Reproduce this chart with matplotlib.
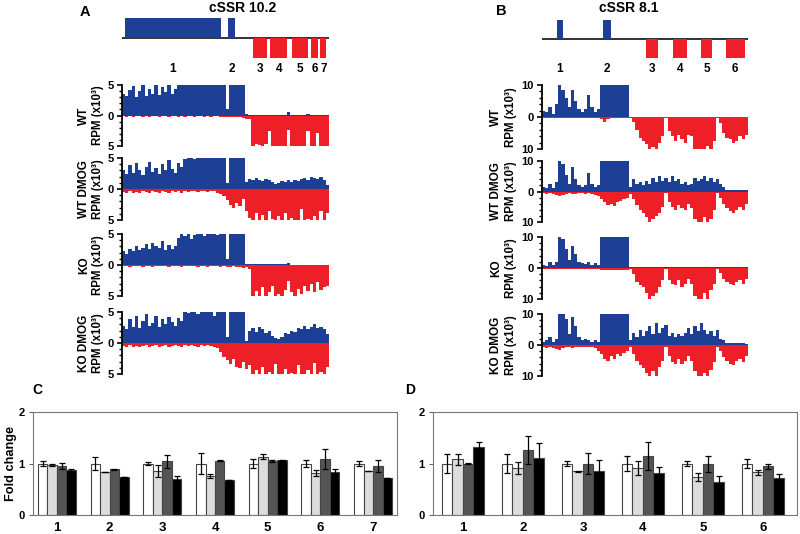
import numpy as np
import matplotlib
matplotlib.use('Agg')
import matplotlib.pyplot as plt
from matplotlib.ticker import MultipleLocator

plt.rcParams['font.family'] = ['Liberation Sans', 'DejaVu Sans']
plt.rcParams['font.weight'] = 'bold'

BLUE = '#1d3f96'
RED = '#ee1f26'

# ---------------- gene models (positions in track bins, 0..64) ----------------
geneA_title = 'cSSR 10.2'
geneA_exons = [(0.9, 30.6), (32.8, 35.0), (40.6, 44.9), (45.8, 51.1), (52.6, 57.6), (58.5, 60.7), (61.3, 63.2)]
geneA_strand = [1, 1, -1, -1, -1, -1, -1]
geneA_labels = ['1', '2', '3', '4', '5', '6', '7']

geneB_title = 'cSSR 8.1'
geneB_exons = [(4.7, 6.5), (18.9, 21.4), (32.3, 36.0), (40.7, 45.0), (49.4, 52.8), (57.1, 63.0)]
geneB_strand = [1, 1, -1, -1, -1, -1]
geneB_labels = ['1', '2', '3', '4', '5', '6']

track_names = ['WT', 'WT DMOG', 'KO', 'KO DMOG']

# ---------------- coverage profiles, cSSR 10.2 (RPM x10^3, capped at 5) ----------------
WT_A_blue = [3.6, 3.2, 4.2, 4.8, 3.0, 4.0, 5.0, 3.2,
             4.4, 3.6, 5.0, 3.4, 4.6, 3.8, 5.0, 3.6,
             4.4, 5, 5, 5, 5, 5, 5, 5,
             5, 5, 5, 5, 5, 5, 5, 5,
             1.0, 5, 5, 5, 5, 5, 0.3, 0.05,
             0.05, 0.05, 0.05, 0.05, 0.05, 0.05, 0.05, 0.05,
             0.05, 0.05, 0.05, 0.6, 0.05, 0.05, 0.05, 0.05,
             0.05, 0.25, 0.05, 0.05, 0.05, 0.05, 0.05, 0.05]
WT_A_red = [.15, .2, .1, .2, .15, .1, .2, .15,
            .2, .1, .15, .2, .1, .15, .2, .15,
            .1, .2, .15, .2, .1, .15, .2, .15,
            .1, .2, .15, .2, .15, .1, .2, .25,
            .2, .3, .25, .3, .3, .4, .5, .5,
            5, 4.6, 4.8, 5, 4.7, 2.5, 5, 5,
            5, 5, 5, 2.4, 5, 5, 5, 5,
            5, 2.6, 5, 5, 2.8, 5, 5, 5]
WTD_A_blue = [3.0, 2.4, 3.8, 2.6, 4.2, 3.0, 2.2, 3.6,
              4.4, 2.8, 3.4, 2.4, 4.0, 3.0, 4.6, 3.2,
              2.6, 4.2, 3.6, 4.8, 5, 5, 4.8, 5,
              5, 5, 5, 5, 5, 5, 5, 5,
              1.0, 5, 5, 5, 5, 5, 1.2, 1.6,
              1.4, 1.8, 1.5, 1.3, 1.6, 1.4, 1.2, 0.8,
              1.0, 1.3, 1.1, 1.4, 1.2, 1.5, 1.3, 1.6,
              1.8, 1.5, 2.0, 1.7, 1.6, 1.9, 1.5, 0.6]
WTD_A_red = [.5, .6, .4, .7, .5, .6, .4, .5,
             .6, .4, .5, .7, .4, .5, .6, .4,
             .5, .4, .6, .4, .5, .3, .4, .5,
             .3, .4, .5, .3, .4, .6, .8, 1.2,
             1.8, 2.5, 3.0, 2.2, 2.8, 1.6, 3.5, 4.6,
             5, 3.8, 5, 4.2, 5, 3.6, 4.8, 5,
             4.4, 5, 3.8, 5, 4.6, 5, 5, 3.2,
             5, 4.8, 5, 4.4, 5, 3.6, 5, 3.8]
KO_A_blue = [2.2, 1.8, 2.6, 2.2, 3.0, 2.4, 2.8, 3.4,
             2.6, 3.6, 3.0, 2.8, 3.8, 2.4, 3.2, 2.6,
             3.0, 4.4, 5, 4.6, 5, 4.2, 4.8, 5,
             5, 4.6, 5, 5, 5, 4.8, 5, 5,
             1.0, 5, 5, 5, 5, 5, 0.2, 0.1,
             0.1, 0.1, 0.1, 0.1, 0.1, 0.1, 0.1, 0.1,
             0.1, 0.1, 0.1, 0.4, 0.05, 0.05, 0.05, 0.05,
             0.05, 0.05, 0.05, 0.05, 0.05, 0.05, 0.05, 0.05]
KO_A_red = [.2, .15, .25, .2, .15, .2, .25, .15,
            .2, .25, .15, .2, .2, .15, .25, .2,
            .15, .2, .25, .2, .15, .2, .2, .25,
            .15, .2, .25, .2, .15, .2, .25, .2,
            .25, .3, .2, .3, .3, .5, .4, .6,
            5, 4.2, 5, 3.6, 5, 4.4, 3.4, 5,
            4.6, 5, 4.0, 2.6, 4.4, 5, 3.8, 4.6,
            3.4, 4.2, 3.0, 4.4, 2.8, 4.0, 3.6, 3.4]
KOD_A_blue = [2.8, 2.2, 3.8, 2.6, 4.4, 2.4, 3.6, 4.6,
              2.8, 3.2, 4.4, 2.6, 3.8, 3.0, 4.2, 3.4,
              2.8, 4.0, 3.6, 5, 4.8, 5, 5, 4.6,
              5, 5, 5, 5, 4.4, 5, 5, 5,
              1.0, 5, 5, 5, 5, 5, 0.4, 2.0,
              2.4, 1.8, 2.6, 2.2, 1.6, 2.0, 1.2, 0.8,
              0.6, 1.0, 1.6, 1.4, 2.0, 1.8, 2.4, 2.2,
              2.8, 2.2, 2.6, 3.0, 2.4, 2.6, 2.2, 1.4]
KOD_A_red = [.5, .6, .4, .7, .5, .6, .5, .4,
             .6, .5, .4, .6, .5, .4, .6, .5,
             .4, .5, .6, .4, .5, .4, .5, .6,
             .4, .5, .4, .5, .6, .8, 1.4, 2.2,
             2.8, 3.4, 2.6, 3.8, 4.0, 3.0, 4.2, 3.6,
             5, 4.4, 5, 3.8, 5, 4.6, 5, 3.4,
             5, 5, 4.2, 5, 4.8, 5, 3.6, 5,
             5, 4.4, 5, 3.2, 5, 4.6, 5, 3.8]

# ---------------- coverage profiles, cSSR 8.1 (RPM x10^3, capped at 10) ----------------
WT_B_blue = [2.0, 1.5, 3.0, 1.0, 4.0, 10, 8.5, 6.0,
             3.0, 8.5, 5.0, 2.5, 1.5, 2.5, 7.0, 3.0,
             1.5, 2.5, 10, 10, 10, 10, 10, 10,
             10, 10, 10, 0.1, 0.1, 0.1, 0.1, 0.1,
             0.1, 0.1, 0.1, 0.1, 0.1, 0.1, 0.1, 0.1,
             0.1, 0.1, 0.1, 0.1, 0.1, 0.1, 0.1, 0.1,
             0.1, 0.1, 0.1, 0.1, 0.1, 0.1, 0.1, 0.1,
             0.1, 0.1, 0.1, 0.1, 0.1, 0.1, 0.1, 0.1]
WT_B_red = [.3, .2, .4, .3, .2, .4, .3, .2,
            .3, .4, .2, .3, .4, .3, .2, .3,
            .4, .3, .5, 1.5, .6, .3, .2, .3,
            .4, .3, .2, .3, 1.5, 4.0, 6.5, 7.5,
            8.5, 10, 9.5, 10, 8.0, 6.0, .3, 4.5,
            6.0, 7.5, 5.5, 7.0, 8.0, 5.5, 6.0, 10,
            10, 10, 10, 9.0, 10, 7.5, .3, 2.0,
            5.0, 6.5, 7.0, 8.0, 7.5, 6.0, 7.0, 5.5]
WTD_B_blue = [1.5, 1.0, 2.5, 1.0, 3.0, 10, 9.0, 5.5,
              2.5, 8.0, 4.0, 2.0, 1.5, 2.0, 6.0, 2.5,
              1.5, 2.0, 10, 10, 10, 10, 10, 10,
              10, 10, 10, 1.5, 4.0, 2.5, 3.0, 2.0,
              3.5, 2.5, 4.5, 3.0, 5.0, 3.5, 4.5, 3.0,
              5.0, 3.5, 4.0, 2.5, 3.0, 2.0, 2.5, 4.5,
              3.5, 4.0, 5.0, 3.5, 4.5, 3.0, 4.0, 2.5,
              1.5, 0.5, 0.6, 0.4, 0.5, 0.6, 0.4, 0.5]
WTD_B_red = [.6, .8, .5, .7, 1.0, 1.4, 1.2, .8,
             .6, .9, .7, .5, .6, .8, .6, .7,
             1.0, 1.5, 2.5, 3.5, 4.5, 4.0, 4.8, 3.5,
             3.0, 2.5, 2.0, 0.8, 2.5, 4.5, 6.0, 7.0,
             8.5, 10, 9.0, 8.0, 7.0, 5.0, .5, 3.5,
             5.0, 6.0, 4.5, 5.5, 6.0, 4.0, 5.5, 9.0,
             10, 10, 8.5, 10, 9.0, 6.0, .5, 2.0,
             4.0, 5.5, 6.5, 7.0, 6.0, 5.0, 6.0, 4.0]
KO_B_blue = [1.0, 0.8, 1.8, 1.0, 2.0, 10, 9.5, 6.0,
             2.5, 7.0, 4.5, 2.0, 1.5, 1.2, 2.0, 1.0,
             1.5, 1.0, 10, 10, 10, 10, 10, 10,
             10, 10, 10, 0.2, 0.3, 0.2, 0.2, 0.3,
             0.2, 0.3, 0.2, 0.2, 0.3, 0.2, 0.2, 0.2,
             0.3, 0.2, 0.2, 0.3, 0.2, 0.2, 0.3, 0.2,
             0.2, 0.3, 0.2, 0.2, 0.3, 0.2, 0.2, 0.2,
             0.2, 0.2, 0.2, 0.2, 0.2, 0.2, 0.2, 0.2]
KO_B_red = [.3, .2, .3, .4, .3, .2, .3, .3,
            .2, .3, .4, .3, .2, .3, .3, .2,
            .3, .4, .5, .8, .6, .7, .8, .6,
            .5, .7, .6, .3, 2.0, 4.5, 5.5, 6.0,
            8.0, 10, 9.0, 8.0, 6.0, 4.0, .3, 4.0,
            5.0, 5.5, 4.0, 6.0, 5.0, 3.5, 5.0, 9.0,
            10, 10, 8.0, 10, 7.0, 5.0, .3, 1.5,
            3.5, 4.5, 5.0, 5.5, 4.5, 4.0, 5.0, 3.5]
KOD_B_blue = [1.0, 1.5, 2.5, 1.0, 2.0, 10, 10, 8.5,
              3.5, 9.0, 6.0, 2.5, 1.5, 2.0, 1.5, 1.0,
              1.5, 1.0, 10, 10, 10, 10, 10, 10,
              10, 10, 10, 1.5, 4.0, 2.5, 5.0, 3.0,
              4.5, 6.0, 3.5, 7.0, 4.0, 5.5, 6.5, 3.0,
              4.0, 2.5, 3.5, 3.0, 4.0, 5.5, 3.5, 6.0,
              4.5, 7.0, 5.0, 3.5, 4.5, 3.0, 5.0, 2.0,
              1.5, 0.6, 0.5, 0.8, 0.5, 0.6, 0.5, 0.4]
KOD_B_red = [.6, .9, .7, 1.0, 1.2, 1.5, 1.0, .8,
             .7, 1.0, .6, .8, .7, .6, .8, .7,
             1.0, 2.0, 3.0, 4.5, 5.0, 3.5, 4.5, 3.0,
             3.5, 2.5, 2.0, 0.8, 3.0, 5.0, 6.5, 7.5,
             9.0, 10, 8.5, 10, 7.0, 5.0, .5, 3.5,
             5.5, 6.0, 4.5, 6.0, 5.0, 3.5, 5.0, 8.5,
             10, 10, 9.0, 10, 8.0, 5.5, .5, 2.0,
             4.0, 5.0, 6.0, 6.5, 5.0, 4.5, 5.5, 3.5]

# ---------------- qPCR fold change ----------------
C_groups = ['1', '2', '3', '4', '5', '6', '7']
C_white = [1.0, 1.0, 1.0, 1.0, 1.0, 1.0, 1.0]
C_white_err = [0.04, 0.12, 0.03, 0.21, 0.09, 0.07, 0.04]
C_light = [0.97, 0.83, 0.85, 0.75, 1.13, 0.81, 0.85]
C_light_err = [0.02, 0.0, 0.12, 0.04, 0.05, 0.06, 0.0]
C_dark = [0.95, 0.89, 1.04, 1.05, 1.05, 1.09, 0.95]
C_dark_err = [0.06, 0.01, 0.12, 0.01, 0.02, 0.20, 0.12]
C_black = [0.87, 0.73, 0.70, 0.68, 1.06, 0.84, 0.72]
C_black_err = [0.03, 0.0, 0.06, 0.0, 0.01, 0.06, 0.0]

D_groups = ['1', '2', '3', '4', '5', '6']
D_white = [1.0, 1.0, 1.0, 1.0, 1.0, 1.0]
D_white_err = [0.19, 0.18, 0.04, 0.14, 0.05, 0.09]
D_light = [1.08, 0.91, 0.85, 0.91, 0.74, 0.83]
D_light_err = [0.10, 0.11, 0.01, 0.14, 0.08, 0.05]
D_dark = [1.00, 1.26, 1.00, 1.15, 0.99, 0.95]
D_dark_err = [0.01, 0.27, 0.20, 0.27, 0.16, 0.05]
D_black = [1.33, 1.10, 0.86, 0.81, 0.65, 0.72]
D_black_err = [0.08, 0.29, 0.20, 0.13, 0.10, 0.08]

BAR_COLORS = ['#ffffff', '#dcdcdc', '#555555', '#000000']

# ---------------- layout helpers ----------------
W, H = 800, 534
fig = plt.figure(figsize=(8, 5.34), dpi=100)


def rect(x0, y0, x1, y1):
    return [x0 / W, 1 - y1 / H, (x1 - x0) / W, (y1 - y0) / H]


def fx(x):
    return x / W


def fy(y):
    return 1 - y / H


def gene_axes(r, exons, strands, labels, lab_y):
    ax = fig.add_axes(r)
    ax.set_xlim(0, 64)
    ax.set_ylim(-1, 1)
    ax.axis('off')
    ax.plot([0, 64], [0, 0], color='#222222', lw=1.3, zorder=1)
    starts = [s for s, e in exons]
    widths = [e - s for s, e in exons]
    cols = [BLUE if st > 0 else RED for st in strands]
    ax.bar(starts, strands, width=widths, align='edge', color=cols, lw=0, zorder=2)
    for (s, e), lab in zip(exons, labels):
        ax.text((s + e) / 2, lab_y, lab, ha='center', va='center', fontsize=8.5,
                fontweight='bold', clip_on=False)
    return ax


def track_axes(r, blue, red, lim, minor):
    ax = fig.add_axes(r)
    n = len(blue)
    x = np.arange(n + 1)
    b = np.append(np.minimum(blue, lim), min(blue[-1], lim))
    rd = np.append(np.minimum(red, lim), min(red[-1], lim))
    ax.fill_between(x, 0, b, step='post', color=BLUE, lw=0)
    ax.fill_between(x, 0, -rd, step='post', color=RED, lw=0)
    ax.set_xlim(0, n)
    ax.set_ylim(-lim, lim)
    for s in ['top', 'right', 'bottom']:
        ax.spines[s].set_visible(False)
    ax.spines['left'].set_linewidth(1.3)
    ax.set_xticks([])
    ax.set_yticks([-lim, 0, lim])
    ax.set_yticklabels([str(lim), '0', str(lim)], fontsize=8, fontweight='bold')
    ax.yaxis.set_minor_locator(MultipleLocator(minor))
    ax.tick_params(axis='y', which='major', length=3.5, width=1.2, pad=2.5)
    ax.tick_params(axis='y', which='minor', length=2.2, width=1.0)
    ax.patch.set_alpha(0)
    return ax


def bar_axes(r, groups, series, errs, xlim, width):
    ax = fig.add_axes(r)
    x = np.arange(1, len(groups) + 1)
    offs = [-1.5, -0.5, 0.5, 1.5]
    for vals, err, col, o in zip(series, errs, BAR_COLORS, offs):
        ax.bar(x + o * width, vals, width=width, color=col, edgecolor='#444444', lw=0.8,
               yerr=err, capsize=2.3, error_kw=dict(elinewidth=0.9, capthick=0.9, ecolor='black'))
    ax.set_xlim(*xlim)
    ax.set_ylim(0, 2)
    ax.set_yticks([0, 1, 2])
    ax.set_yticklabels(['0', '1', '2'], fontsize=8, fontweight='bold')
    ax.set_xticks(x)
    ax.set_xticklabels(groups, fontsize=9.5, fontweight='bold')
    ax.tick_params(axis='x', length=0, pad=5)
    ax.tick_params(axis='y', length=3, width=0.8, pad=3, color='#666666')
    for s in ax.spines.values():
        s.set_color('#777777')
        s.set_linewidth(0.8)
    return ax


# ---------------- panel A ----------------
fig.text(fx(85), fy(12), 'A', ha='center', va='center', fontsize=10.5, fontweight='bold')
fig.text(fx(243), fy(8), geneA_title, ha='center', va='center', fontsize=10, fontweight='bold')
gene_axes(rect(122, 18, 329, 58), geneA_exons, geneA_strand, geneA_labels, -1.55)

A_tracks = [(WT_A_blue, WT_A_red), (WTD_A_blue, WTD_A_red), (KO_A_blue, KO_A_red), (KOD_A_blue, KOD_A_red)]
A_rows = [(85, 146), (158, 220), (234, 296), (312, 374)]
for name, (bl, rd), (y0, y1) in zip(track_names, A_tracks, A_rows):
    track_axes(rect(122, y0, 329, y1), bl, rd, 5, 1)
    yc = fy((y0 + y1) / 2)
    fig.text(fx(84), yc, name, rotation=90, ha='center', va='center', fontsize=8.5, fontweight='bold')
    fig.text(fx(98.5), yc, 'RPM (x10³)', rotation=90, ha='center', va='center', fontsize=8.3, fontweight='bold')

# ---------------- panel B ----------------
fig.text(fx(501), fy(11), 'B', ha='center', va='center', fontsize=10.5, fontweight='bold')
fig.text(fx(629), fy(8), geneB_title, ha='center', va='center', fontsize=10, fontweight='bold')
gene_axes(rect(542, 20, 748, 58), geneB_exons, geneB_strand, geneB_labels, -1.58)

B_tracks = [(WT_B_blue, WT_B_red), (WTD_B_blue, WTD_B_red), (KO_B_blue, KO_B_red), (KOD_B_blue, KOD_B_red)]
B_rows = [(85, 149), (161, 222), (237, 299), (314, 376)]
for name, (bl, rd), (y0, y1) in zip(track_names, B_tracks, B_rows):
    track_axes(rect(542, y0, 748, y1), bl, rd, 10, 2)
    yc = fy((y0 + y1) / 2)
    fig.text(fx(496), yc, name, rotation=90, ha='center', va='center', fontsize=8.5, fontweight='bold')
    fig.text(fx(511), yc, 'RPM (x10³)', rotation=90, ha='center', va='center', fontsize=8.3, fontweight='bold')

# ---------------- panel C ----------------
fig.text(fx(37), fy(390), 'C', ha='center', va='center', fontsize=10, fontweight='bold')
bar_axes(rect(33, 412, 397, 515), C_groups,
         [C_white, C_light, C_dark, C_black],
         [C_white_err, C_light_err, C_dark_err, C_black_err],
         (0.545, 7.455), 0.18)
fig.text(fx(11.5), fy(463), 'Fold change', rotation=90, ha='center', va='center', fontsize=9.2, fontweight='bold')

# ---------------- panel D ----------------
fig.text(fx(410), fy(390), 'D', ha='center', va='center', fontsize=10, fontweight='bold')
bar_axes(rect(433, 412, 797, 515), D_groups,
         [D_white, D_light, D_dark, D_black],
         [D_white_err, D_light_err, D_dark_err, D_black_err],
         (0.5, 6.567), 0.175)

fig.savefig('out.png', dpi=100)
